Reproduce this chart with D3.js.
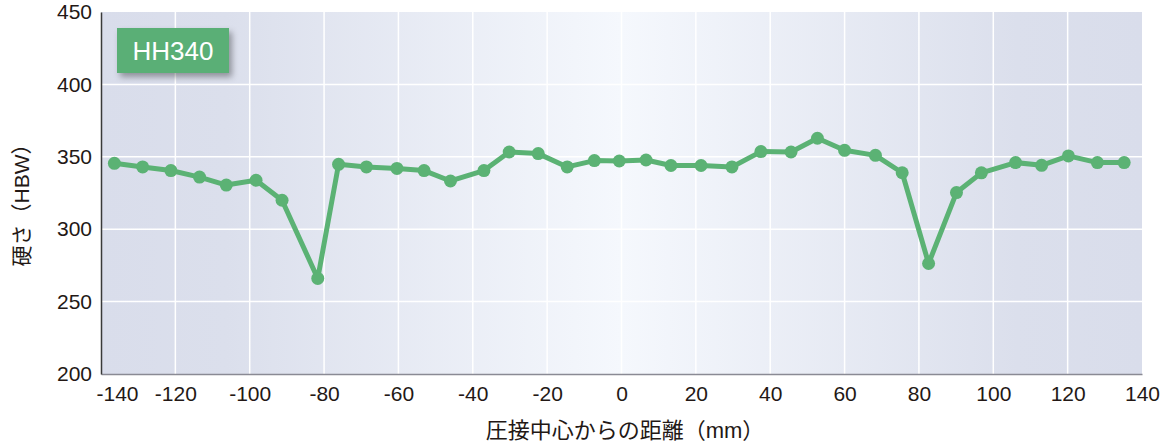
<!DOCTYPE html>
<html>
<head>
<meta charset="utf-8">
<script src="https://cdn.jsdelivr.net/npm/d3@7"></script>
<style>
  body { margin: 0; background: #fff; }
  text { font-family: "Liberation Sans", Arial, "Noto Sans CJK JP", sans-serif; fill: #231815; }
</style>
</head>
<body>
<div id="chart"></div>
<script>
// 距離 (mm) と 硬さ (HBW)
var distance = [-136.4, -128.8, -121.2, -113.5, -106.3, -98.3, -91.3, -81.7, -76.1, -68.6,
                -60.4, -53.1, -46.0, -37.0, -30.2, -22.4, -14.6, -7.3, -0.6, 6.6,
                13.3, 21.4, 29.7, 37.5, 45.6, 52.7, 60.0, 68.3, 75.5, 82.6,
                90.1, 96.8, 106.0, 113.0, 120.2, 128.0, 135.2];
var hardness = [345.5, 343, 340.5, 336, 330.5, 333.8, 320, 266, 344.8, 343,
                342, 340.5, 333.3, 340.5, 353.3, 352.2, 343, 347.4, 347.1, 347.8,
                344, 344, 343, 353.6, 353.3, 362.8, 354.5, 351, 339, 276.3,
                325.3, 338.9, 346, 344.1, 350.6, 346, 346];
var xTicks = [-140, -120, -100, -80, -60, -40, -20, 0, 20, 40, 60, 80, 100, 120, 140];
var yTicks = [200, 250, 300, 350, 400, 450];
var label = "HH340";

var data = distance.map(function(d, i) { return { x: d, y: hardness[i] }; });

var margin = { top: 12, right: 20, bottom: 69, left: 101 },
    width = 1162 - margin.left - margin.right,
    height = 443 - margin.top - margin.bottom;

var svg = d3.select("#chart").append("svg")
    .attr("width", 1162)
    .attr("height", 443);

var defs = svg.append("defs");
var grad = defs.append("linearGradient").attr("id", "bg").attr("x1", "0").attr("x2", "1").attr("y1", "0").attr("y2", "0");
grad.append("stop").attr("offset", "0%").attr("stop-color", "#d9ddeb");
grad.append("stop").attr("offset", "12%").attr("stop-color", "#dbdfec");
grad.append("stop").attr("offset", "50%").attr("stop-color", "#f5f8fd");
grad.append("stop").attr("offset", "88%").attr("stop-color", "#dbdfec");
grad.append("stop").attr("offset", "100%").attr("stop-color", "#d9ddeb");

var shadow = defs.append("filter").attr("id", "shadow").attr("x", "-20%").attr("y", "-20%").attr("width", "150%").attr("height", "160%");
shadow.append("feDropShadow").attr("dx", 3).attr("dy", 4).attr("stdDeviation", 3)
    .attr("flood-color", "#000").attr("flood-opacity", 0.35);

var g = svg.append("g").attr("transform", "translate(" + margin.left + "," + margin.top + ")");

var x = d3.scaleLinear().domain([-140, 140]).range([0, width]);
var y = d3.scaleLinear().domain([200, 450]).range([height, 0]);

// 背景
g.append("rect").attr("width", width).attr("height", height).attr("fill", "url(#bg)");

// グリッド
g.selectAll(".vgrid").data(xTicks.slice(1, -1)).enter().append("line")
    .attr("x1", function(d) { return x(d); }).attr("x2", function(d) { return x(d); })
    .attr("y1", 0).attr("y2", height)
    .attr("stroke", "#fff").attr("stroke-width", 1.5);
g.selectAll(".hgrid").data(yTicks.slice(1, -1)).enter().append("line")
    .attr("x1", 0).attr("x2", width)
    .attr("y1", function(d) { return y(d); }).attr("y2", function(d) { return y(d); })
    .attr("stroke", "#fff").attr("stroke-width", 1.5);

// 軸
var xAxis = g.append("g").attr("transform", "translate(0," + height + ")")
    .call(d3.axisBottom(x).tickValues(xTicks).tickFormat(function(d) { return String(d); })
        .tickSize(0).tickPadding(12));
xAxis.select(".domain").attr("stroke", "#8a8a94").attr("stroke-width", 1.5);
xAxis.selectAll("text").attr("font-size", "21px")
    .attr("dx", function(d) { return d === -140 ? 16 : 0; });

var yAxis = g.append("g")
    .call(d3.axisLeft(y).tickValues(yTicks).tickSize(0).tickPadding(9));
yAxis.select(".domain").attr("stroke", "#3a3a3a").attr("stroke-width", 1.5);
yAxis.selectAll("text").attr("font-size", "21px");

// 折れ線
var line = d3.line().x(function(d) { return x(d.x); }).y(function(d) { return y(d.y); });
g.append("path").datum(data)
    .attr("fill", "none").attr("stroke", "#5bb274").attr("stroke-width", 5)
    .attr("stroke-linejoin", "round").attr("d", line);
g.selectAll(".dot").data(data).enter().append("circle")
    .attr("cx", function(d) { return x(d.x); })
    .attr("cy", function(d) { return y(d.y); })
    .attr("r", 6.5).attr("fill", "#5bb274");

// ラベル
var lab = svg.append("g").attr("transform", "translate(117,28)");
lab.append("rect").attr("width", 112).attr("height", 45).attr("fill", "#5aaf76").attr("filter", "url(#shadow)");
lab.append("text").attr("x", 56).attr("y", 32).attr("text-anchor", "middle")
    .attr("font-size", "26px").style("fill", "#fff").text(label);

// 軸タイトル
svg.append("text").attr("x", 625).attr("y", 438).attr("text-anchor", "middle")
    .attr("font-size", "22px").text("圧接中心からの距離（mm）");
svg.append("text").attr("transform", "translate(29,200) rotate(-90)")
    .attr("text-anchor", "middle").attr("font-size", "21px").text("硬さ（HBW）");
</script>
</body>
</html>
